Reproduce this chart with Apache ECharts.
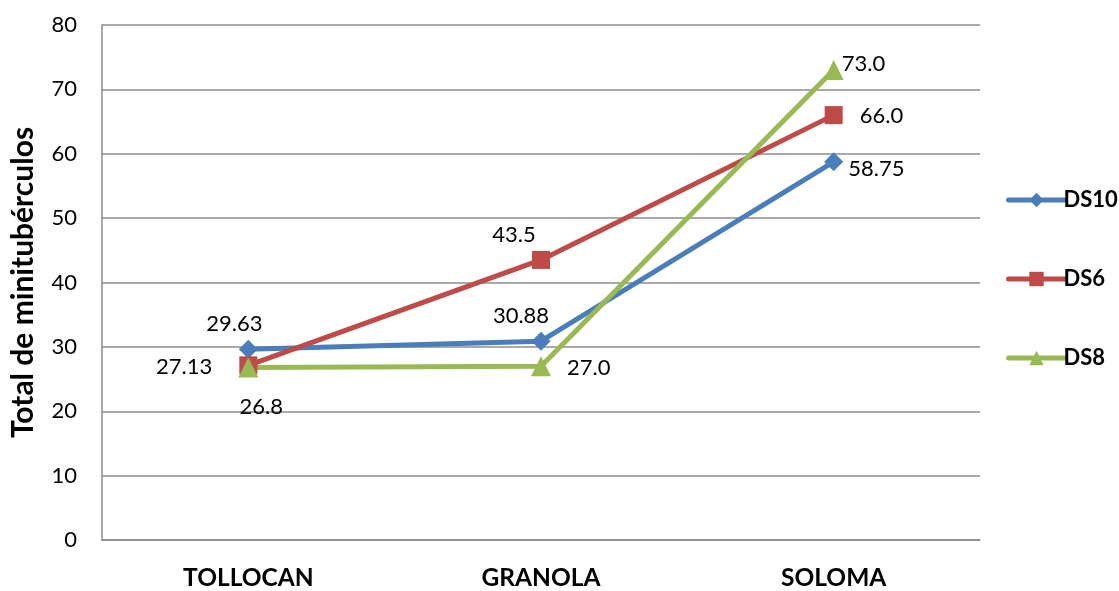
<!DOCTYPE html>
<html>
<head>
<meta charset="utf-8">
<script src="https://cdn.jsdelivr.net/npm/echarts@6/dist/echarts.min.js"></script>
<style>
  html, body { margin: 0; padding: 0; background: #fff; }
  #chart { width: 1119px; height: 591px; }
</style>
</head>
<body>
<div id="chart"></div>
<script>
// Categories and series values
var categories = ['TOLLOCAN', 'GRANOLA', 'SOLOMA'];
var ds10 = [29.63, 30.88, 58.75];
var ds6 = [27.13, 43.5, 66.0];
var ds8 = [26.8, 27.0, 73.0];
var ds10Labels = ['29.63', '30.88', '58.75'];
var ds6Labels = ['27.13', '43.5', '66.0'];
var ds8Labels = ['26.8', '27.0', '73.0'];
var yTicks = { min: 0, max: 80, interval: 10 };

var FONT = 'Lato, "Open Sans", sans-serif';
var gridColor = '#8c8c8c';

// per-point label placement for each series
var ds10Place = [
  { position: 'top', offset: [-14, 0] },
  { position: 'top', offset: [-20, 0] },
  { position: 'right', offset: [0, 7] }
];
var ds6Place = [
  { position: 'left', offset: [-22, 2] },
  { position: 'top', offset: [-27, 0] },
  { position: 'right', offset: [12, 1] }
];
var ds8Place = [
  { position: 'bottom', offset: [13, 13] },
  { position: 'right', offset: [11, 2] },
  { position: 'right', offset: [-7, -6] }
];

function buildData(values, texts, places) {
  return values.map(function (v, i) {
    return {
      value: v,
      label: {
        show: true,
        position: places[i].position,
        offset: places[i].offset,
        formatter: texts[i]
      }
    };
  });
}

function lineSeries(name, values, texts, places, color, symbol, size) {
  return {
    name: name,
    type: 'line',
    data: buildData(values, texts, places),
    symbol: symbol,
    symbolSize: size,
    lineStyle: { color: color, width: 5 },
    itemStyle: { color: color },
    label: { color: '#000', fontFamily: FONT, fontSize: 22 },
    emphasis: { disabled: true },
    animation: false
  };
}

var chart = echarts.init(document.getElementById('chart'), null, { renderer: 'canvas' });
chart.setOption({
  backgroundColor: '#fff',
  grid: { left: 102, right: 139, top: 25, bottom: 48, containLabel: false },
  legend: {
    orient: 'vertical',
    left: 1001,
    top: 184,
    itemWidth: 56,
    itemHeight: 18,
    itemGap: 57,
    lineStyle: { width: 5, cap: 'round' },
    textStyle: { fontFamily: FONT, fontSize: 22, fontWeight: 'bold', color: '#000', lineHeight: 18, padding: [0, 0, 0, -6] },
    data: ['DS10', 'DS6', 'DS8']
  },
  xAxis: {
    type: 'category',
    data: categories,
    boundaryGap: true,
    axisLine: { show: true, lineStyle: { color: gridColor, width: 1.5 } },
    axisTick: { show: false },
    axisLabel: { fontFamily: FONT, fontSize: 24.5, fontWeight: 'bold', color: '#000', margin: 26 },
    splitLine: { show: false }
  },
  yAxis: {
    type: 'value',
    min: yTicks.min,
    max: yTicks.max,
    interval: yTicks.interval,
    name: 'Total de minitubérculos',
    nameLocation: 'middle',
    nameGap: 64,
    nameTextStyle: { fontFamily: FONT, fontSize: 30, fontWeight: 'bold', color: '#000' },
    axisLine: { show: true, lineStyle: { color: gridColor, width: 1.5 } },
    axisTick: { show: false },
    axisLabel: { fontFamily: FONT, fontSize: 22, color: '#000', margin: 25 },
    splitLine: { show: true, lineStyle: { color: gridColor, width: 1.5 } }
  },
  series: [
    lineSeries('DS10', ds10, ds10Labels, ds10Place, '#4A7EBB', 'diamond', 19),
    lineSeries('DS6', ds6, ds6Labels, ds6Place, '#BE4B48', 'rect', 18),
    lineSeries('DS8', ds8, ds8Labels, ds8Place, '#98B954', 'triangle', 20)
  ]
});
</script>
</body>
</html>
